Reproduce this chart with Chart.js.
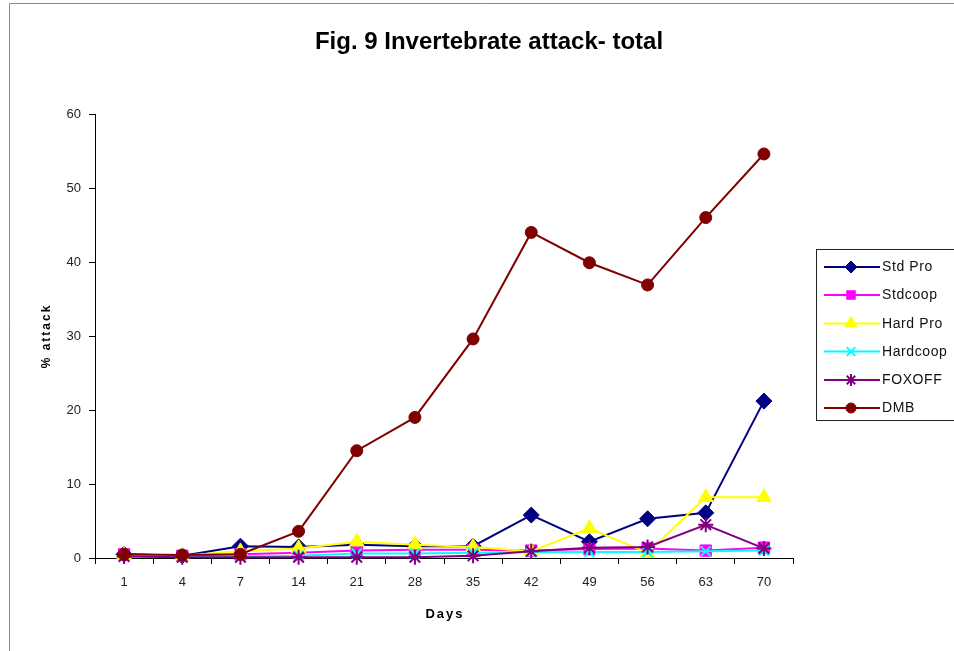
<!DOCTYPE html>
<html>
<head>
<meta charset="utf-8">
<script src="https://cdn.jsdelivr.net/npm/chart.js@4.4.0/dist/chart.umd.min.js"></script>
<style>
  html, body { margin: 0; padding: 0; background: #fff; }
  #wrap { width: 954px; height: 651px; position: relative; }
</style>
</head>
<body>
<div id="wrap"><canvas id="c" width="954" height="651"></canvas></div>
<script>
// Sampling days (x categories)
const days = ['1', '4', '7', '14', '21', '28', '35', '42', '49', '56', '63', '70'];

// % attack per treatment
const stdPro   = [0.5, 0.3, 1.6, 1.5, 1.8, 1.6, 1.6, 5.8, 2.2, 5.3, 6.1, 21.2];
const stdcoop  = [0.5, 0.3, 0.5, 0.7, 1.0, 1.1, 1.1, 1.0, 1.2, 1.3, 1.0, 1.4];
const hardPro  = [0.4, 0.3, 0.9, 1.3, 2.2, 1.8, 1.5, 0.9, 4.0, 0.7, 8.2, 8.2];
const hardcoop = [0.3, 0.2, 0.2, 0.3, 0.6, 0.6, 0.7, 0.8, 0.8, 0.8, 0.9, 1.0];
const foxoff   = [0.2, 0.1, 0.1, 0.1, 0.1, 0.1, 0.3, 0.9, 1.4, 1.5, 4.5, 1.3];
const dmb      = [0.5, 0.4, 0.5, 3.6, 14.5, 19.0, 29.6, 44.0, 39.9, 36.9, 46.0, 54.6];

// y-axis tick values
const yTicks = [0, 10, 20, 30, 40, 50, 60];

const FONT = '"Liberation Sans", Arial, sans-serif';

function series(label, data, color, style, radius, legendRadius, order, extra) {
  return Object.assign({
    label, data, order, legendRadius,
    borderColor: color,
    backgroundColor: color,
    pointBackgroundColor: color,
    pointBorderColor: color,
    pointStyle: style,
    pointRadius: radius,
    pointHoverRadius: radius,
    pointBorderWidth: 1,
    borderWidth: 2,
    tension: 0,
    clip: false
  }, extra || {});
}

const datasets = [
  series('Std Pro',  stdPro,   '#000080', 'rectRot',  8,   6, 5),
  series('Stdcoop',  stdcoop,  '#FF00FF', 'rect',     8,   6, 4),
  series('Hard Pro', hardPro,  '#FFFF00', 'triangle', 8.5, 7, 3),
  series('Hardcoop', hardcoop, '#00FFFF', 'crossRot', 7,   6, 2, { pointBorderWidth: 2 }),
  series('FOXOFF',   foxoff,   '#800080', 'star',     7.5, 6, 1, { pointBorderWidth: 2 }),
  series('DMB',      dmb,      '#800000', 'circle',   6,   5, 0)
];

// Page frame, titles and boxed legend
const decor = {
  id: 'decor',
  beforeDraw(chart) {
    const ctx = chart.ctx;
    ctx.save();
    ctx.fillStyle = '#fff';
    ctx.fillRect(0, 0, chart.width, chart.height);
    ctx.strokeStyle = '#8a8a8a';
    ctx.lineWidth = 1;
    ctx.beginPath();
    ctx.moveTo(9.5, 651);
    ctx.lineTo(9.5, 3.5);
    ctx.lineTo(954, 3.5);
    ctx.stroke();
    ctx.restore();
  },
  afterDraw(chart) {
    const ctx = chart.ctx;
    const area = chart.chartArea;
    ctx.save();
    // main title
    ctx.fillStyle = '#000';
    ctx.font = 'bold 24px ' + FONT;
    ctx.textAlign = 'center';
    ctx.textBaseline = 'middle';
    ctx.letterSpacing = '0px';
    ctx.fillText('Fig. 9 Invertebrate attack- total', 489, 42);

    // axis titles
    ctx.font = 'bold 13px ' + FONT;
    ctx.letterSpacing = '2px';
    ctx.fillText('Days', (area.left + area.right) / 2 + 1, 614);
    ctx.save();
    ctx.translate(47, (area.top + area.bottom) / 2);
    ctx.rotate(-Math.PI / 2);
    ctx.font = 'bold 12px ' + FONT;
    ctx.fillText('% attack', 0, 0);
    ctx.restore();

    // legend box
    const bx = 816.5, by = 249.5, bw = 150, bh = 171;
    ctx.letterSpacing = '0px';
    ctx.fillStyle = '#fff';
    ctx.fillRect(bx, by, bw, bh);
    ctx.strokeStyle = '#222';
    ctx.lineWidth = 1;
    ctx.strokeRect(bx, by, bw, bh);

    const rowY = [267, 295, 323.5, 351.5, 380, 408];
    ctx.font = '14px ' + FONT;
    ctx.textAlign = 'left';
    ctx.textBaseline = 'middle';
    chart.data.datasets.forEach((ds, i) => {
      const y = rowY[i];
      ctx.letterSpacing = '0px';
      ctx.strokeStyle = ds.borderColor;
      ctx.lineWidth = 2;
      ctx.beginPath();
      ctx.moveTo(824, y);
      ctx.lineTo(880, y);
      ctx.stroke();
      ctx.fillStyle = ds.pointBackgroundColor;
      ctx.strokeStyle = ds.pointBorderColor;
      ctx.lineWidth = ds.pointBorderWidth;
      Chart.helpers.drawPoint(ctx, {
        pointStyle: ds.pointStyle,
        radius: ds.legendRadius,
        rotation: 0,
        borderWidth: ds.pointBorderWidth
      }, 851, y);
      ctx.fillStyle = '#111';
      ctx.letterSpacing = '0.6px';
      ctx.fillText(ds.label, 882, y + 0.5);
    });
    ctx.restore();
  }
};

new Chart(document.getElementById('c'), {
  type: 'line',
  data: { labels: days, datasets },
  plugins: [decor],
  options: {
    responsive: false,
    animation: false,
    events: [],
    layout: { padding: { left: 0, right: 161, top: 114, bottom: 0 } },
    plugins: {
      legend: { display: false },
      title: { display: false },
      tooltip: { enabled: false }
    },
    scales: {
      x: {
        type: 'category',
        offset: true,
        afterFit(scale) { scale.height = 93; },
        grid: {
          display: true,
          offset: true,
          drawOnChartArea: false,
          drawTicks: true,
          tickLength: 6,
          tickColor: '#000',
          color: '#000'
        },
        border: { display: true, color: '#000', width: 1 },
        ticks: {
          color: '#222',
          font: { family: FONT, size: 13 },
          padding: 11,
          maxRotation: 0,
          autoSkip: false
        },
        title: { display: false }
      },
      y: {
        min: 0,
        max: 60,
        afterFit(scale) { scale.width = 95; },
        afterBuildTicks(scale) { scale.ticks = yTicks.map(v => ({ value: v })); },
        grid: {
          display: true,
          drawOnChartArea: false,
          drawTicks: true,
          tickLength: 6,
          tickColor: '#000',
          color: '#000'
        },
        border: { display: true, color: '#000', width: 1 },
        ticks: {
          color: '#222',
          font: { family: FONT, size: 13 },
          padding: 8
        },
        title: { display: false }
      }
    }
  }
});
</script>
</body>
</html>
